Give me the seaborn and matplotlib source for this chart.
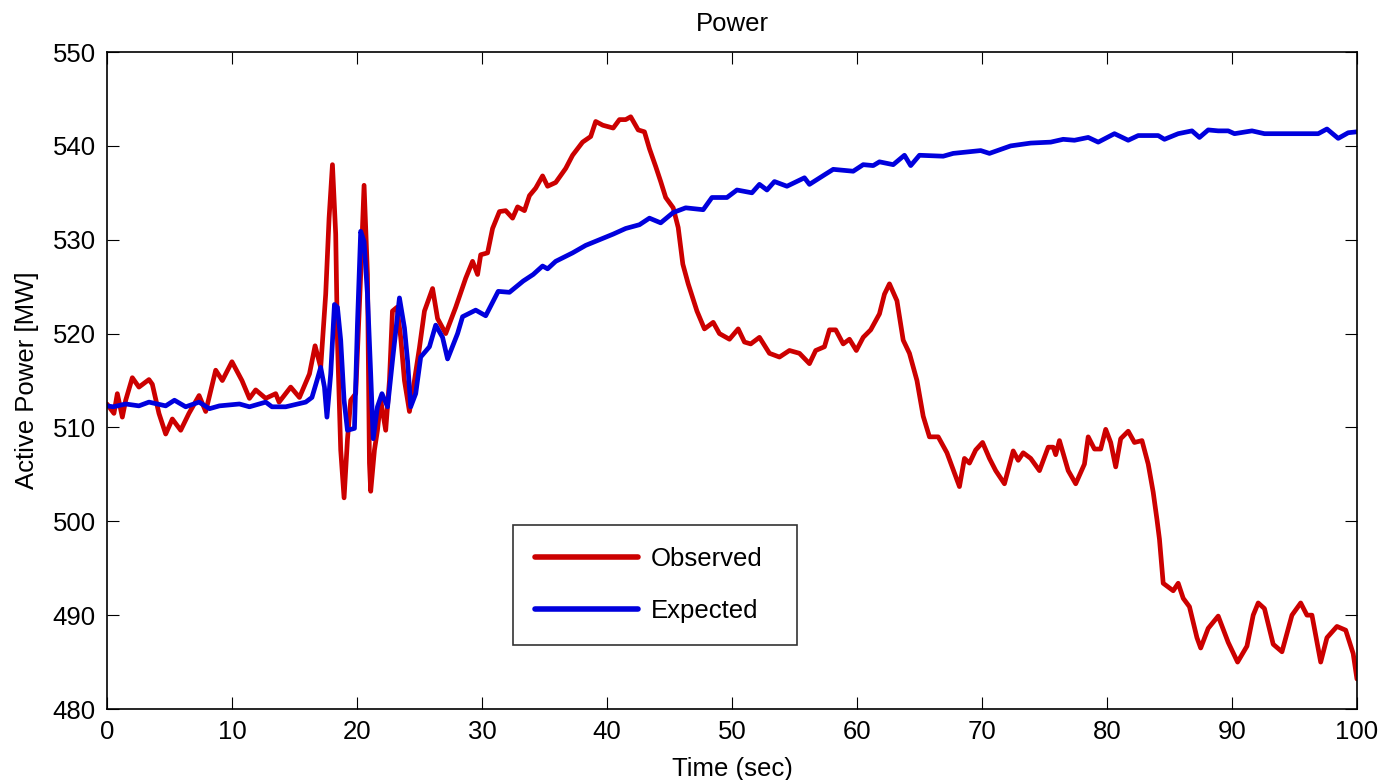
import numpy as np
import pandas as pd
import matplotlib
matplotlib.use("Agg")
import matplotlib.pyplot as plt
import seaborn as sns

# ---- data ----
observed_t = [0, 0.56, 0.83, 1.23, 1.5, 2.03, 2.56, 3.36, 3.63, 4.16, 4.7, 5.23, 5.9, 6.56, 7.37, 7.9,
              8.7, 9.23, 10.0, 10.8, 11.4, 11.9, 12.7, 13.5, 13.77, 14.7, 15.4, 16.2, 16.65, 17.1, 17.5,
              17.77, 18.04, 18.3, 18.44, 18.7, 18.97, 19.24, 19.5, 19.9, 20.3, 20.57, 20.84, 21.0, 21.1,
              21.4, 21.64, 21.9, 22.3, 22.6, 22.84, 23.2, 23.5, 23.8, 24.2, 24.6, 25.0, 25.4, 26.05,
              26.45, 27.1, 27.9, 28.7, 29.25, 29.65, 29.9, 30.45, 30.85, 31.4, 31.9, 32.45, 32.85, 33.4,
              33.8, 34.3, 34.85, 35.25, 35.9, 36.7, 37.25, 38.05, 38.7, 39.1, 39.67, 40.5, 41.0, 41.5,
              41.9, 42.5, 43.0, 43.4, 43.9, 44.3, 44.7, 45.3, 45.7, 46.07, 46.5, 47.2, 47.8, 48.5, 49.0,
              49.8, 50.5, 51.0, 51.5, 52.2, 53.0, 53.8, 54.6, 55.4, 56.2, 56.7, 57.4, 57.8, 58.3, 58.9,
              59.4, 59.95, 60.5, 61.1, 61.8, 62.2, 62.6, 63.2, 63.7, 64.2, 64.8, 65.3, 65.8, 66.5, 67.2,
              67.7, 68.2, 68.6, 69.0, 69.5, 70.05, 70.6, 71.1, 71.8, 72.5, 72.9, 73.3, 73.9, 74.6, 75.3,
              75.7, 75.9, 76.2, 76.9, 77.5, 78.2, 78.5, 79.0, 79.5, 79.9, 80.3, 80.7, 81.1, 81.7, 82.2,
              82.8, 83.3, 83.7, 84.0, 84.2, 84.5, 84.9, 85.3, 85.7, 86.1, 86.6, 87.2, 87.5, 88.1, 88.9,
              89.7, 90.45, 91.2, 91.7, 92.1, 92.6, 93.3, 94.0, 94.8, 95.5, 96.0, 96.4, 97.1, 97.6, 98.4,
              99.1, 99.7, 100]
observed_mw = [512.5, 511.5, 513.6, 511.1, 512.9, 515.3, 514.3, 515.1, 514.6, 511.5, 509.3, 510.9, 509.7,
               511.5, 513.4, 511.7, 516.1, 515.0, 517.0, 515.0, 513.1, 514.0, 513.1, 513.6, 512.7, 514.3,
               513.2, 515.7, 518.7, 516.4, 524.2, 532.3, 538.0, 530.6, 519.3, 507.6, 502.5, 508.7, 512.9,
               513.6, 526.3, 535.8, 526.3, 506.2, 503.2, 507.6, 509.7, 512.9, 509.7, 515.0, 522.4, 522.8,
               519.6, 515.0, 511.7, 515.0, 518.5, 522.4, 524.8, 521.6, 520.0, 522.8, 525.9, 527.7, 526.3,
               528.4, 528.6, 531.2, 533.0, 533.1, 532.3, 533.5, 533.1, 534.7, 535.5, 536.8, 535.7, 536.1,
               537.6, 539.0, 540.4, 541.0, 542.6, 542.2, 541.9, 542.8, 542.8, 543.1, 541.7, 541.5, 539.7,
               537.8, 536.2, 534.5, 533.4, 531.3, 527.4, 525.3, 522.4, 520.5, 521.2, 520.0, 519.4, 520.5,
               519.1, 518.9, 519.6, 517.9, 517.5, 518.2, 517.9, 516.8, 518.2, 518.6, 520.4, 520.4, 518.9,
               519.4, 518.2, 519.6, 520.4, 522.1, 524.2, 525.3, 523.5, 519.3, 517.9, 515.0, 511.2, 509.0,
               509.0, 507.3, 505.5, 503.7, 506.7, 506.2, 507.6, 508.4, 506.7, 505.4, 504.0, 507.5, 506.5,
               507.3, 506.7, 505.4, 507.9, 507.9, 507.1, 508.6, 505.4, 504.0, 506.1, 509.0, 507.7, 507.7,
               509.8, 508.4, 505.8, 508.8, 509.6, 508.4, 508.6, 506.1, 503.1, 500.2, 498.1, 493.4, 493.0,
               492.6, 493.4, 491.8, 490.9, 487.6, 486.5, 488.6, 489.9, 487.1, 485.0, 486.7, 490.0, 491.3,
               490.7, 486.9, 486.1, 490.0, 491.3, 490.0, 490.0, 485.0, 487.6, 488.8, 488.4, 485.9, 483.2]

expected_t = [0, 0.5, 1.5, 2.56, 3.36, 4.7, 5.4, 6.3, 7.37, 8.2, 9.0, 10.6, 11.4, 12.7, 13.2, 14.3, 15.9,
              16.4, 16.8, 17.1, 17.4, 17.6, 17.9, 18.2, 18.44, 18.7, 18.97, 19.24, 19.8, 20.04, 20.3,
              20.57, 20.84, 21.1, 21.3, 21.64, 22.0, 22.45, 22.84, 23.4, 23.8, 24.05, 24.3, 24.7, 25.1,
              25.8, 26.3, 26.85, 27.25, 28.05, 28.45, 29.5, 30.3, 31.3, 32.2, 33.3, 34.1, 34.85, 35.25,
              35.9, 37.25, 38.3, 39.4, 40.5, 41.5, 42.6, 43.4, 44.3, 45.3, 46.3, 47.7, 48.4, 49.6, 50.4,
              51.6, 52.2, 52.8, 53.4, 54.4, 55.8, 56.2, 57.5, 58.1, 59.7, 60.5, 61.3, 61.8, 62.9, 63.8,
              64.3, 65.0, 66.9, 67.7, 69.9, 70.6, 72.3, 73.9, 75.5, 76.5, 77.4, 78.5, 79.3, 80.6, 81.7,
              82.5, 84.1, 84.6, 85.7, 86.8, 87.4, 88.1, 88.9, 89.7, 90.2, 91.6, 92.6, 94.3, 95.9, 96.9,
              97.6, 98.5, 99.3, 100]
expected_mw = [512.3, 512.2, 512.5, 512.3, 512.7, 512.3, 512.9, 512.2, 512.7, 512.0, 512.3, 512.5, 512.2,
               512.7, 512.2, 512.2, 512.7, 513.2, 515.0, 516.4, 514.3, 511.1, 515.7, 523.1, 522.8, 519.3,
               512.9, 509.7, 509.9, 521.0, 530.9, 529.8, 524.2, 515.7, 508.8, 512.2, 513.6, 512.2, 517.1,
               523.8, 520.6, 517.1, 512.2, 513.6, 517.5, 518.6, 520.9, 519.6, 517.3, 520.0, 521.8, 522.5,
               521.9, 524.5, 524.4, 525.6, 526.3, 527.2, 526.9, 527.7, 528.6, 529.4, 530.0, 530.6, 531.2,
               531.6, 532.3, 531.8, 532.9, 533.4, 533.2, 534.5, 534.5, 535.3, 535.0, 535.9, 535.3, 536.2,
               535.7, 536.6, 535.9, 537.0, 537.5, 537.3, 538.0, 537.9, 538.3, 538.0, 539.0, 537.9, 539.0,
               538.9, 539.2, 539.5, 539.2, 540.0, 540.3, 540.4, 540.7, 540.6, 540.9, 540.4, 541.3, 540.6,
               541.1, 541.1, 540.7, 541.3, 541.6, 540.9, 541.7, 541.6, 541.6, 541.3, 541.6, 541.3, 541.3,
               541.3, 541.3, 541.8, 540.8, 541.4, 541.5]

series_names = ["Observed", "Expected"]
series_colors = ["#cc0000", "#0000dd"]
x_ticks = list(range(0, 101, 10))
y_ticks = list(range(480, 551, 10))

df = pd.concat([
    pd.DataFrame({"Time": observed_t, "Power": observed_mw, "Series": series_names[0]}),
    pd.DataFrame({"Time": expected_t, "Power": expected_mw, "Series": series_names[1]}),
], ignore_index=True)

sns.set_theme(style="white")
plt.rcParams["font.family"] = ["Liberation Sans", "DejaVu Sans"]
plt.rcParams["text.color"] = "black"
plt.rcParams["axes.labelcolor"] = "black"
plt.rcParams["xtick.color"] = "black"
plt.rcParams["ytick.color"] = "black"

fig = plt.figure(figsize=(13.8, 7.8), dpi=100)
ax = fig.add_axes([0.0775, 0.091, 0.9058, 0.8423])

sns.lineplot(data=df, x="Time", y="Power", hue="Series", hue_order=series_names,
             palette=dict(zip(series_names, series_colors)), estimator=None, sort=False,
             linewidth=3.4, ax=ax)

ax.set_xlim(0, 100)
ax.set_ylim(480, 550)
ax.set_xticks(x_ticks)
ax.set_yticks(y_ticks)
ax.tick_params(direction="in", length=8.5, width=0.8, colors="black", labelsize=18.5,
               top=True, right=True, bottom=True, left=True, pad=8)
for s in ax.spines.values():
    s.set_visible(True)
    s.set_color("black")
    s.set_linewidth(1.2)

ax.set_title("Power", fontsize=18.5, pad=15, color="black")
ax.set_xlabel("Time (sec)", fontsize=18.5, labelpad=9, color="black")
ax.set_ylabel("Active Power [MW]", fontsize=18.5, labelpad=10, color="black")

leg = ax.legend(loc="lower left", bbox_to_anchor=(0.325, 0.097, 0.227, 0.175), mode="expand",
                fontsize=18.5, frameon=True, fancybox=False, edgecolor="black",
                handlelength=4.0, handletextpad=0.5, labelspacing=1.1, borderpad=0.85,
                borderaxespad=0)
leg.get_frame().set_linewidth(1.2)
for text in leg.get_texts():
    text.set_color("black")
for line in leg.get_lines():
    line.set_linewidth(4)

fig.savefig("out.png", dpi=100, facecolor="white")
